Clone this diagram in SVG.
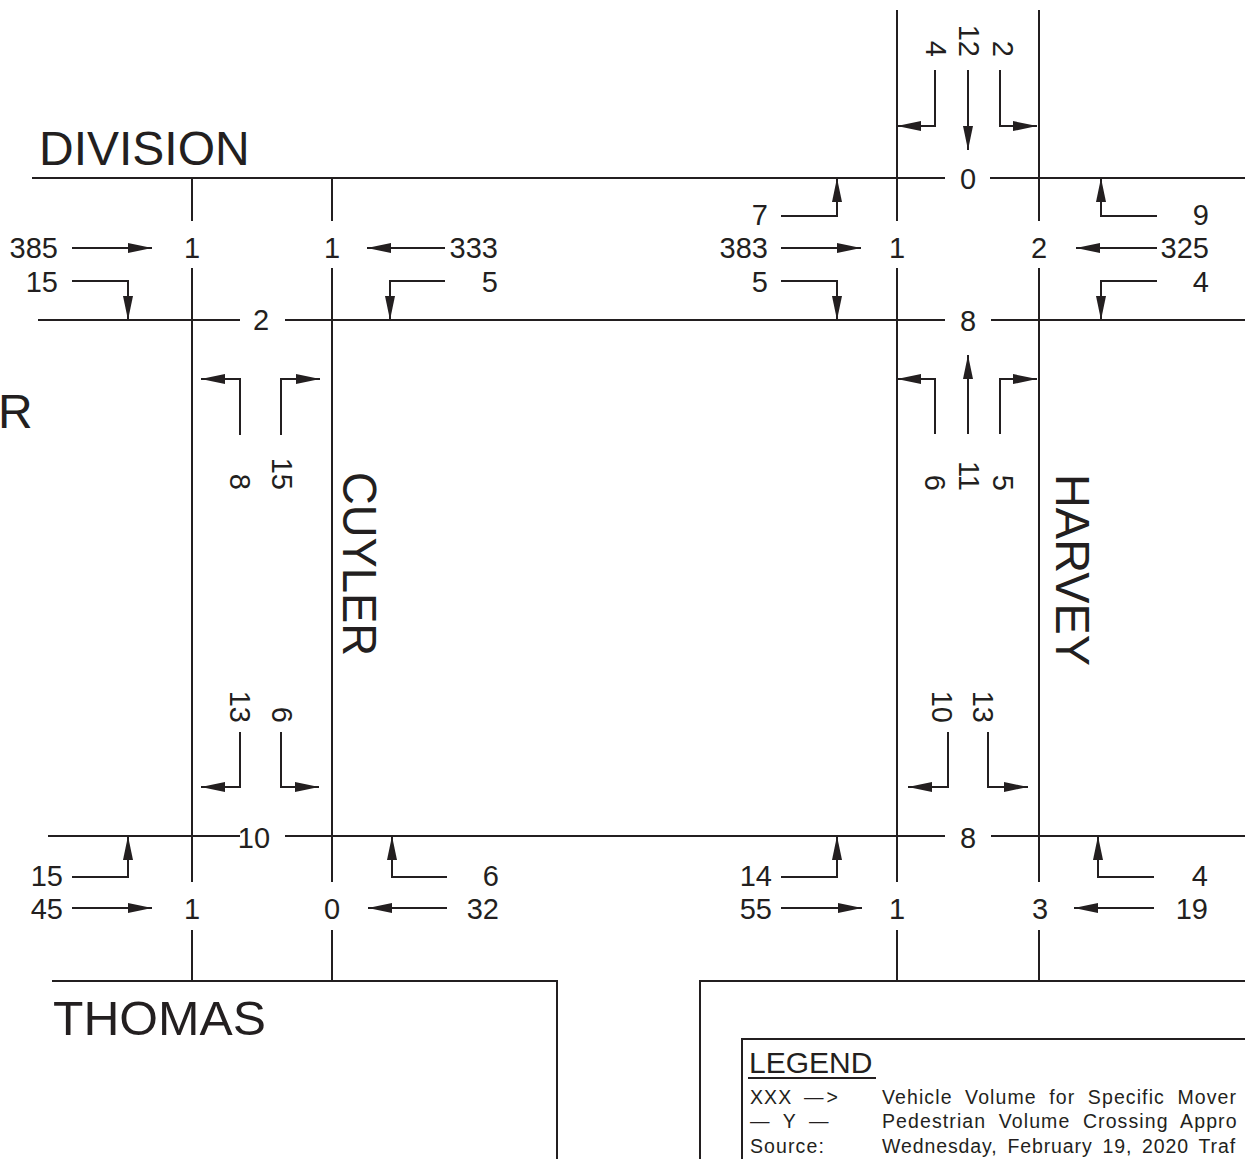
<svg xmlns="http://www.w3.org/2000/svg" width="1245" height="1159" viewBox="0 0 1245 1159">
<style>
.ln{fill:none;stroke:#231f20;stroke-width:2}
.ar{fill:none;stroke:#231f20;stroke-width:2;marker-end:url(#ah)}
text{font-family:"Liberation Sans",Arial,sans-serif;fill:#231f20}
.n{font-size:29px}
.e{text-anchor:end}
.m{text-anchor:middle}
.big{font-size:48px}
.lg{font-size:19.5px;letter-spacing:1.1px;word-spacing:6px}
</style>
<defs>
<marker id="ah" markerUnits="userSpaceOnUse" markerWidth="24" markerHeight="10" refX="24" refY="5" orient="auto" overflow="visible">
<path d="M0,0 L24,5 L0,10 Z" fill="#231f20"/>
</marker>
</defs>
<rect width="1245" height="1159" fill="#fff"/>

<g id="streets">
<path class="ln" d="M32,178 H945 M990,178 H1245"/>
<path class="ln" d="M38,320 H240 M285,320 H945 M991,320 H1245"/>
<path class="ln" d="M48,836 H240 M285,836 H945 M991,836 H1245"/>
<path class="ln" d="M52,981 H557 V1159"/>
<path class="ln" d="M700,1159 V981 H1245"/>
<path class="ln" d="M192,178 V221 M192,268 V882 M192,930 V981"/>
<path class="ln" d="M332,178 V221 M332,268 V882 M332,930 V981"/>
<path class="ln" d="M897,10 V221 M897,268 V882 M897,930 V981"/>
<path class="ln" d="M1039,10 V221 M1039,268 V882 M1039,930 V981"/>
</g>

<g id="street-names">
<text class="big" x="39" y="165">DIVISION</text>
<text class="big" x="53" y="1035" textLength="213" lengthAdjust="spacingAndGlyphs">THOMAS</text>
<text class="big" x="-2" y="428">R</text>
<text class="big" transform="translate(343,472) rotate(90)" textLength="184" lengthAdjust="spacingAndGlyphs">CUYLER</text>
<text class="big" transform="translate(1056,474) rotate(90)" textLength="192" lengthAdjust="spacingAndGlyphs">HARVEY</text>
</g>

<g id="connectors">
<path class="ar" d="M72,248 H152"/>
<path class="ar" d="M72,281 H128 V320"/>
<path class="ar" d="M445,248 H367"/>
<path class="ar" d="M445,281 H390 V320"/>
<path class="ar" d="M781,216 H837 V178"/>
<path class="ar" d="M781,248 H861"/>
<path class="ar" d="M781,281 H837 V320"/>
<path class="ar" d="M1157,216 H1101 V178"/>
<path class="ar" d="M1157,248 H1076"/>
<path class="ar" d="M1157,281 H1101 V320"/>
<path class="ar" d="M935,70 V126 H897"/>
<path class="ar" d="M968,70 V150"/>
<path class="ar" d="M1000,70 V126 H1037"/>
<path class="ar" d="M240,435 V379 H201"/>
<path class="ar" d="M281,435 V379 H320"/>
<path class="ar" d="M935,434 V379 H897"/>
<path class="ar" d="M968,434 V355"/>
<path class="ar" d="M1000,434 V379 H1037"/>
<path class="ar" d="M240,732 V787 H201"/>
<path class="ar" d="M281,732 V787 H319"/>
<path class="ar" d="M948,732 V787 H908"/>
<path class="ar" d="M988,732 V787 H1028"/>
<path class="ar" d="M72,877 H128 V836"/>
<path class="ar" d="M72,908 H152"/>
<path class="ar" d="M447,877 H392 V836"/>
<path class="ar" d="M447,908 H368"/>
<path class="ar" d="M781,877 H837 V836"/>
<path class="ar" d="M781,908 H862"/>
<path class="ar" d="M1154,877 H1098 V836"/>
<path class="ar" d="M1154,908 H1074"/>
</g>

<g id="volumes">
<text class="n e" x="58" y="258">385</text>
<text class="n e" x="58" y="292">15</text>
<text class="n e" x="498" y="258">333</text>
<text class="n e" x="498" y="292">5</text>
<text class="n e" x="768" y="225">7</text>
<text class="n e" x="768" y="258">383</text>
<text class="n e" x="768" y="292">5</text>
<text class="n e" x="1209" y="225">9</text>
<text class="n e" x="1209" y="258">325</text>
<text class="n e" x="1209" y="292">4</text>
<text class="n e" x="63" y="886">15</text>
<text class="n e" x="63" y="919">45</text>
<text class="n e" x="499" y="886">6</text>
<text class="n e" x="499" y="919">32</text>
<text class="n e" x="772" y="886">14</text>
<text class="n e" x="772" y="919">55</text>
<text class="n e" x="1208" y="886">4</text>
<text class="n e" x="1208" y="919">19</text>
<text class="n e" transform="translate(936,57) rotate(90)" y="10.4">4</text>
<text class="n e" transform="translate(969,57) rotate(90)" y="10.4">12</text>
<text class="n e" transform="translate(1003,57) rotate(90)" y="10.4">2</text>
<text class="n e" transform="translate(240,490) rotate(90)" y="10.4">8</text>
<text class="n e" transform="translate(282,490) rotate(90)" y="10.4">15</text>
<text class="n e" transform="translate(935,491) rotate(90)" y="10.4">6</text>
<text class="n e" transform="translate(969,491) rotate(90)" y="10.4">11</text>
<text class="n e" transform="translate(1003,491) rotate(90)" y="10.4">5</text>
<text class="n e" transform="translate(240,723) rotate(90)" y="10.4">13</text>
<text class="n e" transform="translate(282,723) rotate(90)" y="10.4">6</text>
<text class="n e" transform="translate(942,723) rotate(90)" y="10.4">10</text>
<text class="n e" transform="translate(983,723) rotate(90)" y="10.4">13</text>
</g>

<g id="crossings">
<text class="n m" x="192" y="258">1</text>
<text class="n m" x="332" y="258">1</text>
<text class="n m" x="897" y="258">1</text>
<text class="n m" x="1039" y="258">2</text>
<text class="n m" x="261" y="330">2</text>
<text class="n m" x="968" y="189">0</text>
<text class="n m" x="968" y="331">8</text>
<text class="n m" x="254" y="848">10</text>
<text class="n m" x="968" y="848">8</text>
<text class="n m" x="192" y="919">1</text>
<text class="n m" x="332" y="919">0</text>
<text class="n m" x="897" y="919">1</text>
<text class="n m" x="1040" y="919">3</text>
</g>

<g id="legend">
<path class="ln" d="M742,1159 V1039 H1245"/>
<text x="749" y="1073" style="font-size:30px">LEGEND</text>
<path class="ln" d="M748,1078 H876"/>
<text class="lg" x="750" y="1104">XXX</text>
<text class="lg" x="804" y="1104" style="letter-spacing:3px">—&gt;</text>
<text class="lg" x="750" y="1128">— Y —</text>
<text class="lg" x="750" y="1153">Source:</text>
<text class="lg" x="882" y="1104">Vehicle Volume for Specific Mover</text>
<text class="lg" x="882" y="1128">Pedestrian Volume Crossing Appro</text>
<text class="lg" x="882" y="1153" style="letter-spacing:0.9px;word-spacing:3.5px">Wednesday, February 19, 2020 Traf</text>
</g>
</svg>
